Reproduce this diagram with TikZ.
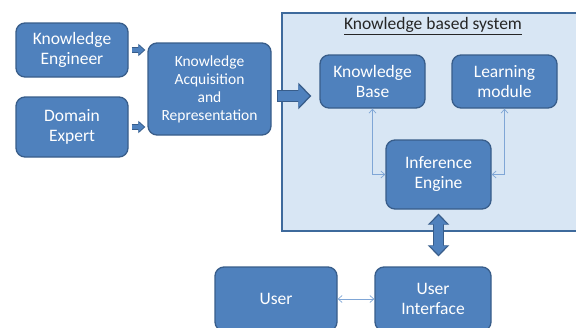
\documentclass[tikz,border=0pt]{standalone}
\usepackage{fontspec}
\setmainfont{Carlito}
\usetikzlibrary{arrows.meta,calc}
\definecolor{boxfill}{HTML}{4F81BD}
\definecolor{boxline}{HTML}{385D8A}
\definecolor{sysfill}{HTML}{D8E6F4}
\definecolor{sysline}{HTML}{3E6A9C}
\definecolor{thinarrow}{HTML}{7FA6D6}
\tikzset{
  bluebox/.style={draw=boxline, line width=1.3pt, fill=boxfill, rounded corners=9pt,
    text=white, align=center, inner sep=0pt, font=\fontsize{17.5}{20}\selectfont},
  smalltext/.style={font=\fontsize{15.5}{18}\selectfont},
  thinlink/.style={draw=thinarrow, line width=0.7pt, {Straight Barb[length=4pt,width=7pt]}-{Straight Barb[length=4pt,width=7pt]}},
  fatout/.style={draw=boxline, line width=#1},
  fatin/.style={draw=boxfill, line width=#1},
}
\begin{document}
\begin{tikzpicture}[x=1pt,y=-1pt]
\useasboundingbox (0,0) rectangle (576,327);
\clip (0,0) rectangle (576,327);
% system frame
\node[draw=sysline, line width=1.6pt, fill=sysfill, minimum width=300pt, minimum height=218pt, inner sep=0pt, anchor=north west] (sys) at (281,12) {};
\node[font=\fontsize{17.5}{20}\selectfont, text=black!85] (title) at (433,26) {\underline{Knowledge based system}};
% boxes
\node[bluebox, minimum width=112pt, minimum height=54pt] (ke) at (72,50) {Knowledge\\Engineer};
\node[bluebox, minimum width=112pt, minimum height=60pt] (de) at (72,127) {Domain\\Expert};
\node[bluebox, smalltext, minimum width=123pt, minimum height=92pt] (kar) at (209.5,89) {Knowledge\\Acquisition\\and\\Representation};
\node[bluebox, minimum width=105pt, minimum height=53pt] (kb) at (372.5,81.5) {Knowledge\\Base};
\node[bluebox, minimum width=105pt, minimum height=53pt] (lm) at (504.5,81.5) {Learning\\module};
\node[bluebox, minimum width=105pt, minimum height=69pt] (ie) at (438.5,174.5) {Inference\\Engine};
\node[bluebox, minimum width=122pt, minimum height=64pt] (user) at (276,299) {User};
\node[bluebox, minimum width=116pt, minimum height=64pt] (ui) at (433,299) {User\\Interface};
\coordinate (bigy) at (0,96);
% small block arrows
\foreach \s in {ke,de}{
  \draw[fatout=6.5pt, -{Triangle[length=7pt,width=12pt]}] ($(\s.east)+(3,0)$) -- ($(kar.west |- \s.east)+(-2,0)$);
  \draw[fatin=4.5pt, -{Triangle[length=5.5pt,width=9.5pt]}] ($(\s.east)+(3.7,0)$) -- ($(kar.west |- \s.east)+(-3.4,0)$);
}
% big arrow KAR -> KB
\draw[fatout=12pt, -{Triangle[length=13pt,width=26pt]}] ($(kar.east |- bigy)+(5,0)$) -- ($(kb.west |- bigy)+(-8,0)$);
\draw[fatin=9.5pt, -{Triangle[length=11pt,width=22pt]}] ($(kar.east |- bigy)+(6.2,0)$) -- ($(kb.west |- bigy)+(-10,0)$);
% double arrow IE <-> UI
\draw[fatout=11pt, {Triangle[length=11pt,width=21pt]}-{Triangle[length=11pt,width=21pt]}] ($(ie.south)+(0,4)$) -- ($(ui.north -| ie.south)+(0,-10)$);
\draw[fatin=8.5pt, {Triangle[length=9pt,width=17pt]}-{Triangle[length=9pt,width=17pt]}] ($(ie.south)+(0,5.8)$) -- ($(ui.north -| ie.south)+(0,-11.8)$);
% thin links
\draw[thinlink] (kb.south) |- (ie.west);
\draw[thinlink] (lm.south) |- (ie.east);
\draw[thinlink] (user.east) -- (ui.west);
\end{tikzpicture}
\end{document}
